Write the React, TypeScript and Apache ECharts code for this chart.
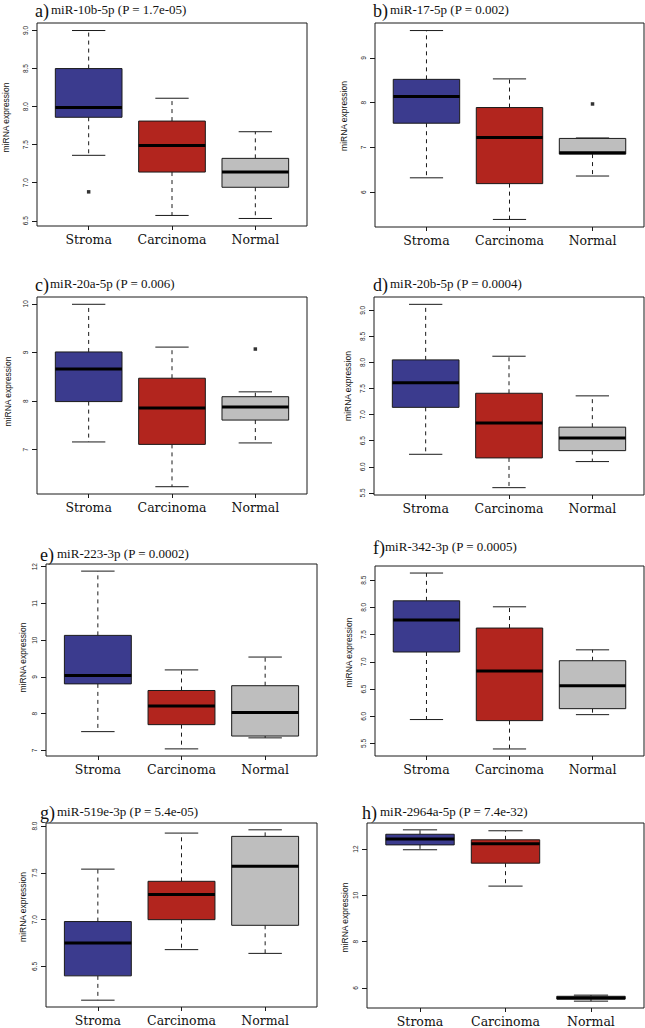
import React, { useEffect, useRef } from "react";
import * as echarts from "echarts";

// ---------- DATA ----------
const groups = ["Stroma", "Carcinoma", "Normal"];
const boxColors = ["#3b3b8e", "#b2251e", "#bebebe"];
const panelLetters = ["a)", "b)", "c)", "d)", "e)", "f)", "g)", "h)"];
const panelNames = [
  "miR-10b-5p (P = 1.7e-05)",
  "miR-17-5p (P = 0.002)",
  "miR-20a-5p (P = 0.006)",
  "miR-20b-5p (P = 0.0004)",
  "miR-223-3p (P = 0.0002)",
  "miR-342-3p (P = 0.0005)",
  "miR-519e-3p (P = 5.4e-05)",
  "miR-2964a-5p (P = 7.4e-32)",
];

// each row: [lower whisker, Q1, median, Q3, upper whisker] for Stroma, Carcinoma, Normal
const miR10b5p = [
  [7.36, 7.86, 7.99, 8.5, 9.0],
  [6.57, 7.14, 7.49, 7.81, 8.11],
  [6.53, 6.94, 7.14, 7.32, 7.67],
];
const miR17_5p = [
  [6.32, 7.54, 8.135, 8.52, 9.61],
  [5.39, 6.19, 7.22, 7.89, 8.53],
  [6.36, 6.85, 6.88, 7.2, 7.21],
];
const miR20a5p = [
  [7.16, 7.99, 8.66, 9.01, 9.99],
  [6.24, 7.11, 7.86, 8.47, 9.11],
  [7.14, 7.61, 7.88, 8.09, 8.19],
];
const miR20b5p = [
  [6.24, 7.14, 7.61, 8.05, 9.115],
  [5.6, 6.17, 6.84, 7.41, 8.12],
  [6.1, 6.31, 6.55, 6.76, 7.36],
];
const miR223_3p = [
  [7.51, 8.81, 9.04, 10.13, 11.88],
  [7.04, 7.7, 8.21, 8.63, 9.19],
  [7.34, 7.39, 8.03, 8.76, 9.54],
];
const miR342_3p = [
  [5.94, 7.18, 7.77, 8.12, 8.63],
  [5.4, 5.92, 6.83, 7.62, 8.01],
  [6.03, 6.14, 6.56, 7.02, 7.22],
];
const miR519e3p = [
  [6.14, 6.4, 6.75, 6.98, 7.54],
  [6.68, 7.0, 7.27, 7.41, 7.925],
  [6.64, 6.94, 7.57, 7.89, 7.96],
];
const miR2964a5p = [
  [11.97, 12.18, 12.44, 12.64, 12.83],
  [10.4, 11.39, 12.23, 12.4, 12.79],
  [5.43, 5.52, 5.57, 5.64, 5.69],
];

// outliers: [group position (1..3), value]
const outliers10b = [[1, 6.88]];
const outliers17 = [[3, 7.97]];
const outliers20a = [[3, 9.07]];

// y tick labels per panel
const ticksA = [6.5, 7.0, 7.5, 8.0, 8.5, 9.0];
const ticksB = [6, 7, 8, 9];
const ticksC = [7, 8, 9, 10];
const ticksD = [5.5, 6.0, 6.5, 7.0, 7.5, 8.0, 8.5, 9.0];
const ticksE = [7, 8, 9, 10, 11, 12];
const ticksF = [5.5, 6.0, 6.5, 7.0, 7.5, 8.0, 8.5];
const ticksG = [6.5, 7.0, 7.5, 8.0];
const ticksH = [6, 8, 10, 12];

const panelStats = [miR10b5p, miR17_5p, miR20a5p, miR20b5p, miR223_3p, miR342_3p, miR519e3p, miR2964a5p];
const panelOutliers = [outliers10b, outliers17, outliers20a, [], [], [], [], []];
const panelTicks = [ticksA, ticksB, ticksC, ticksD, ticksE, ticksF, ticksG, ticksH];

// ---------- LAYOUT ----------
const layouts = [
  { grid: { left: 37, top: 23, width: 270, height: 203 }, letterX: 35, textX: 51, base: 14, nameGap: 27, nameUp: 7 },
  { grid: { left: 375, top: 23, width: 269, height: 204 }, letterX: 373, textX: 390, base: 14, nameGap: 27, nameUp: 9 },
  { grid: { left: 37, top: 297, width: 270, height: 197 }, letterX: 35, textX: 50, base: 288, nameGap: 25, nameUp: 4 },
  { grid: { left: 374, top: 297, width: 270, height: 198 }, letterX: 373, textX: 390, base: 288, nameGap: 22, nameUp: 10 },
  { grid: { left: 46, top: 564, width: 271, height: 192 }, letterX: 40, textX: 57, base: 557.5, nameGap: 18.5, nameUp: 2.5 },
  { grid: { left: 375, top: 566, width: 269, height: 190 }, letterX: 373, textX: 385, base: 550.5, nameGap: 22, nameUp: 8.5 },
  { grid: { left: 46, top: 823, width: 271, height: 184 }, letterX: 40, textX: 57, base: 815.5, nameGap: 18.5, nameUp: 8 },
  { grid: { left: 367, top: 823, width: 277, height: 188 }, letterX: 362, textX: 380, base: 815.5, nameGap: 17.5, nameUp: -2 },
];

const INK = "#1a1a1a";

function makeRenderItem() {
  return (params: any, api: any) => {
    const x = api.value(0);
    const lo = api.value(1);
    const q1 = api.value(2);
    const med = api.value(3);
    const q3 = api.value(4);
    const hi = api.value(5);
    const boxW = api.size([0.8, 0])[0];
    const half = boxW / 2;
    const stap = boxW / 4;
    const pLo = api.coord([x, lo]);
    const pQ1 = api.coord([x, q1]);
    const pMed = api.coord([x, med]);
    const pQ3 = api.coord([x, q3]);
    const pHi = api.coord([x, hi]);
    const cx = pMed[0];
    const color = boxColors[params.dataIndex];
    return {
      type: "group",
      children: [
        { type: "line", shape: { x1: cx, y1: pQ3[1], x2: cx, y2: pHi[1] }, style: { stroke: INK, lineWidth: 1, lineDash: [4, 4] } },
        { type: "line", shape: { x1: cx, y1: pQ1[1], x2: cx, y2: pLo[1] }, style: { stroke: INK, lineWidth: 1, lineDash: [4, 4] } },
        { type: "line", shape: { x1: cx - stap, y1: pHi[1], x2: cx + stap, y2: pHi[1] }, style: { stroke: INK, lineWidth: 1 } },
        { type: "line", shape: { x1: cx - stap, y1: pLo[1], x2: cx + stap, y2: pLo[1] }, style: { stroke: INK, lineWidth: 1 } },
        { type: "rect", shape: { x: cx - half, y: pQ3[1], width: boxW, height: pQ1[1] - pQ3[1] }, style: { fill: color, stroke: INK, lineWidth: 1 } },
        { type: "line", shape: { x1: cx - half, y1: pMed[1], x2: cx + half, y2: pMed[1] }, style: { stroke: "#000", lineWidth: 3 } },
      ],
    };
  };
}

function buildOption() {
  const grids: any[] = [];
  const xAxes: any[] = [];
  const yAxes: any[] = [];
  const series: any[] = [];
  const graphics: any[] = [];

  panelStats.forEach((stats, i) => {
    const L = layouts[i];
    grids.push({ ...L.grid, show: true, borderColor: INK, borderWidth: 1, backgroundColor: "transparent", containLabel: false });

    const all: number[] = [];
    stats.forEach((r) => r.forEach((v) => all.push(v)));
    panelOutliers[i].forEach((o) => all.push(o[1]));
    const lo = Math.min(...all);
    const hi = Math.max(...all);
    const pad = (hi - lo) * 0.04;
    const ticks = panelTicks[i];
    const decimals = ticks.some((t) => Math.round(t) !== t) ? 1 : 0;
    const up = L.nameUp;
    const namePad = up >= 0 ? [0, 0, 0, 2 * up] : [0, -2 * up, 0, 0];

    xAxes.push({
      type: "value",
      gridIndex: i,
      min: 0.38,
      max: 3.62,
      axisLine: { show: false },
      splitLine: { show: false },
      axisTick: { show: true, customValues: [1, 2, 3], length: 4, lineStyle: { color: INK, width: 1 } },
      axisLabel: {
        show: true,
        customValues: [1, 2, 3],
        formatter: (v: number) => groups[Math.round(v) - 1] ?? "",
        fontFamily: "DejaVu Serif",
        fontSize: 12.5,
        color: "#111",
        margin: 7,
      },
    });

    yAxes.push({
      type: "value",
      gridIndex: i,
      min: lo - pad,
      max: hi + pad,
      axisLine: { show: false },
      splitLine: { show: false },
      axisTick: { show: true, customValues: ticks, length: 5, lineStyle: { color: INK, width: 1 } },
      axisLabel: {
        show: true,
        customValues: ticks,
        rotate: 90,
        formatter: (v: number) => v.toFixed(decimals),
        fontFamily: "Liberation Sans",
        fontSize: 6.5,
        color: "#222",
        margin: 8,
      },
      name: "miRNA expression",
      nameLocation: "middle",
      nameRotate: 90,
      nameGap: L.nameGap,
      nameTextStyle: { fontFamily: "Liberation Sans", fontSize: 8.5, color: "#111", padding: namePad },
    });

    series.push({
      type: "custom",
      xAxisIndex: i,
      yAxisIndex: i,
      silent: true,
      renderItem: makeRenderItem(),
      encode: { x: 0, y: [1, 2, 3, 4, 5] },
      data: stats.map((r, k) => [k + 1, ...r]),
      z: 2,
    });

    if (panelOutliers[i].length) {
      series.push({
        type: "scatter",
        xAxisIndex: i,
        yAxisIndex: i,
        silent: true,
        symbol: "rect",
        symbolSize: 3.5,
        itemStyle: { color: "#000" },
        data: panelOutliers[i],
        z: 3,
      });
    }

    graphics.push({
      type: "text",
      x: L.letterX,
      y: L.base - 2.8,
      style: {
        text: panelLetters[i],
        font: "18px 'Liberation Serif', serif",
        fill: "#111",
        align: "left",
        verticalAlign: "middle",
        textAlign: "left",
        textVerticalAlign: "middle",
      },
    });
    graphics.push({
      type: "text",
      x: L.textX,
      y: L.base - 4.4,
      style: {
        text: panelNames[i],
        font: "13px 'Liberation Serif', serif",
        fill: "#111",
        align: "left",
        verticalAlign: "middle",
        textAlign: "left",
        textVerticalAlign: "middle",
      },
    });
  });

  return {
    animation: false,
    backgroundColor: "#ffffff",
    grid: grids,
    xAxis: xAxes,
    yAxis: yAxes,
    series,
    graphic: graphics,
  };
}

export default function App() {
  const ref = useRef<HTMLDivElement>(null);
  useEffect(() => {
    document.body.style.margin = "0";
    if (!ref.current) return;
    const chart = echarts.init(ref.current, undefined, { renderer: "svg" });
    chart.setOption(buildOption() as any);
    return () => chart.dispose();
  }, []);
  return <div ref={ref} style={{ width: 645, height: 1028 }} />;
}
